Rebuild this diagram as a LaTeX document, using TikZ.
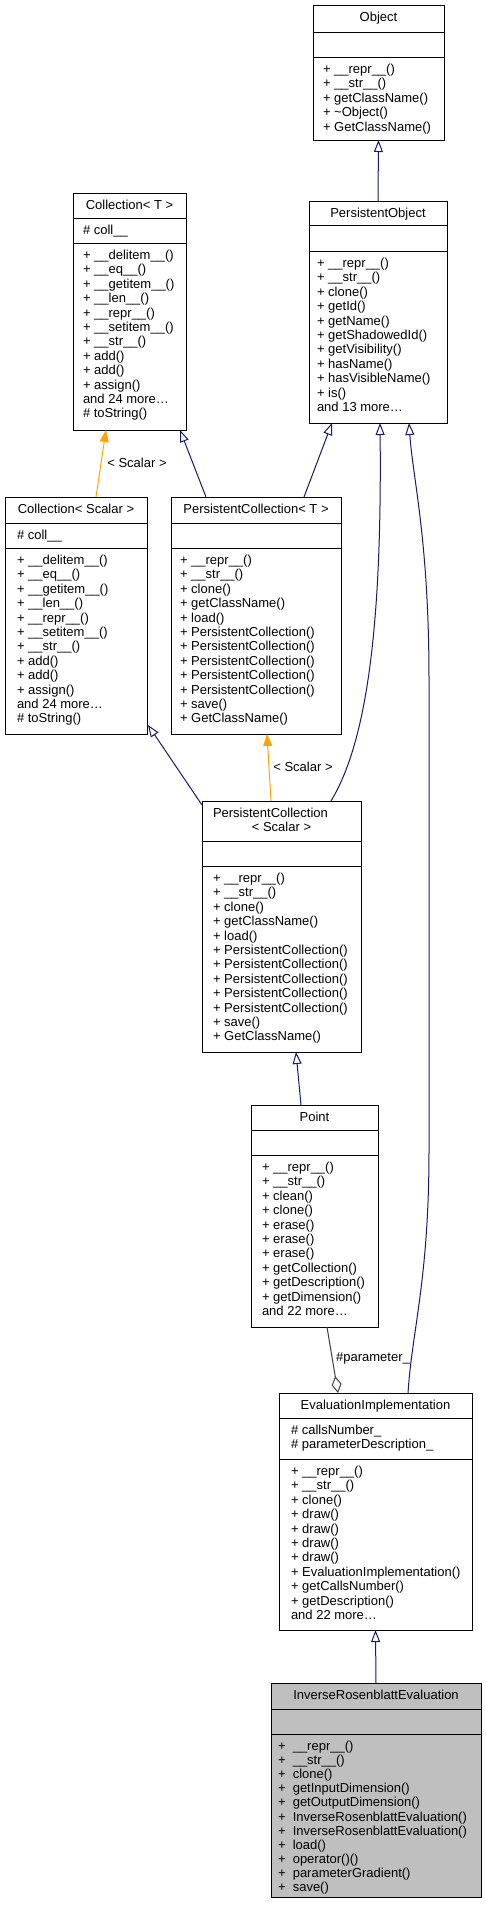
\documentclass[tikz,border=0pt]{standalone}
\usepackage{fontspec}
\setmainfont{Liberation Sans}
\usetikzlibrary{arrows.meta,calc}
\definecolor{navy}{HTML}{191970}
\definecolor{dorange}{HTML}{FFA500}
\definecolor{aggc}{HTML}{404040}
\definecolor{hl}{HTML}{BFBFBF}
\tikzset{
  box/.style={draw=black, line width=1pt, inner sep=0pt, outer sep=0pt, anchor=north west},
  sepline/.style={draw=black, line width=1pt},
  mem/.style={inner sep=0pt, outer sep=0pt, anchor=base west, font=\fontsize{13}{14.4}\selectfont},
  ttl/.style={inner sep=0pt, outer sep=0pt, anchor=base, font=\fontsize{13}{14.4}\selectfont},
  elabel/.style={inner sep=0pt, outer sep=0pt, anchor=center, font=\fontsize{13}{14.4}\selectfont},
  inh/.style={draw=navy, line width=1pt, -{Triangle[open, length=12pt, width=9pt]}},
  tmpl/.style={draw=dorange, line width=1pt, -{Triangle[length=12pt, width=9pt, fill=dorange]}},
  aggr/.style={draw=aggc, line width=1pt, -{Diamond[open, length=17pt, width=10pt]}},
}
% prefix, x, first baseline, spacing, list
\newcommand\memlist[5]{%
  \foreach \t [count=\i] in {#5} {\node[mem] (#1\i) at (#2, {#3+(\i-1)*#4}) {\t};}}
% name, x1, y1, width, height, sep1 offset, sep2 offset, fill
\newcommand\umlbox[8]{%
  \node[box, fill=#8, minimum width=#4pt, minimum height=#5pt] (#1) at (#2,#3) {};
  \draw[sepline] ($(#1.north west)+(0,#6)$) -- ($(#1.north east)+(0,#6)$);
  \draw[sepline] ($(#1.north west)+(0,#7)$) -- ($(#1.north east)+(0,#7)$);}
\newcommand\pw{+\hspace{7.2pt}}
\begin{document}
\begin{tikzpicture}[x=1pt,y=-1pt]
\useasboundingbox (0,0) rectangle (485,1912);
\fill[white] (0,0) rectangle (485,1912);

% Object
\umlbox{obj}{313}{5}{131}{135}{27}{52}{white}
\node[ttl] (objt) at (378.5,21.5) {Object};
\memlist{objm}{323}{73.5}{14.4}{+ \_\_repr\_\_(), + \_\_str\_\_(), + getClassName(), + \textasciitilde Object(), + GetClassName()}

% PersistentObject
\umlbox{pobj}{309}{201}{138}{222}{24}{50}{white}
\node[ttl] (pobjt) at (378,217.5) {PersistentObject};
\memlist{pobjm}{317}{267.5}{14.4}{+ \_\_repr\_\_(), + \_\_str\_\_(), + clone(), + getId(), + getName(), + getShadowedId(), + getVisibility(), + hasName(), + hasVisibleName(), + is(), and 13 more\ldots}

% Collection< T >
\umlbox{collT}{73}{193}{113}{237}{25}{50}{white}
\node[ttl] (collTt) at (129.5,209.5) {Collection< T >};
\node[mem] (collTa) at (83,234.5) {\# coll\_\_};
\memlist{collTm}{83}{259.5}{14.4}{+ \_\_delitem\_\_(), + \_\_eq\_\_(), + \_\_getitem\_\_(), + \_\_len\_\_(), + \_\_repr\_\_(), + \_\_setitem\_\_(), + \_\_str\_\_(), + add(), + add(), + assign(), and 24 more\ldots, \# toString()}

% Collection< Scalar >
\umlbox{collS}{5}{497}{142}{237}{26}{51}{white}
\node[ttl] (collSt) at (76,513.5) {Collection< Scalar >};
\node[mem] (collSa) at (17,539.5) {\# coll\_\_};
\memlist{collSm}{17}{564.5}{14.4}{+ \_\_delitem\_\_(), + \_\_eq\_\_(), + \_\_getitem\_\_(), + \_\_len\_\_(), + \_\_repr\_\_(), + \_\_setitem\_\_(), + \_\_str\_\_(), + add(), + add(), + assign(), and 24 more\ldots, \# toString()}

% PersistentCollection< T >
\umlbox{pcolT}{171}{497}{170}{237}{26}{51}{white}
\node[ttl] (pcolTt) at (256,513.5) {PersistentCollection< T >};
\memlist{pcolTm}{180}{564.5}{14.4}{+ \_\_repr\_\_(), + \_\_str\_\_(), + clone(), + getClassName(), + load(), + PersistentCollection(), + PersistentCollection(), + PersistentCollection(), + PersistentCollection(), + PersistentCollection(), + save(), + GetClassName()}

% PersistentCollection< Scalar >
\umlbox{pcolS}{202}{801}{159}{251}{40}{65}{white}
\node[mem] (pcolSt) at (213,817) {PersistentCollection};
\node[ttl] (pcolSt2) at (281.5,831) {< Scalar >};
\memlist{pcolSm}{213}{882.5}{14.4}{+ \_\_repr\_\_(), + \_\_str\_\_(), + clone(), + getClassName(), + load(), + PersistentCollection(), + PersistentCollection(), + PersistentCollection(), + PersistentCollection(), + PersistentCollection(), + save(), + GetClassName()}

% Point
\umlbox{point}{251}{1105}{127}{222}{25}{50}{white}
\node[ttl] (pointt) at (314.5,1121.5) {Point};
\memlist{pointm}{262}{1171.5}{14.4}{+ \_\_repr\_\_(), + \_\_str\_\_(), + clean(), + clone(), + erase(), + erase(), + erase(), + getCollection(), + getDescription(), + getDimension(), and 22 more\ldots}

% EvaluationImplementation
\umlbox{evimpl}{279}{1393}{193}{237}{25}{66}{white}
\node[ttl] (evimplt) at (375.5,1409.5) {EvaluationImplementation};
\memlist{evimpla}{291}{1434.5}{14.4}{\# callsNumber\_, \# parameterDescription\_}
\memlist{evimplm}{291}{1475.5}{14.4}{+ \_\_repr\_\_(), + \_\_str\_\_(), + clone(), + draw(), + draw(), + draw(), + draw(), + EvaluationImplementation(), + getCallsNumber(), + getDescription(), and 22 more\ldots}

% InverseRosenblattEvaluation
\umlbox{ire}{271}{1683}{210}{214}{26}{51}{hl}
\node[ttl] (iret) at (376,1699.5) {InverseRosenblattEvaluation};
\memlist{irem}{278}{1750.5}{14.1}{\pw\_\_repr\_\_(), \pw\_\_str\_\_(), \pw clone(), \pw getInputDimension(), \pw getOutputDimension(), \pw InverseRosenblattEvaluation(), \pw InverseRosenblattEvaluation(), \pw load(), \pw operator()(), \pw parameterGradient(), \pw save()}

% Connectors
\draw[inh] (pobj.north) -- (obj.south);
\draw[inh] ($(pcolT.north west)+(133,0)$) -- ($(pobj.south west)+(23,0)$);
\draw[inh] ($(pcolS.north west)+(129,0)$) .. controls (368,740) and (382,620) .. ($(pobj.south west)+(71,0)$);
\draw[inh] ($(evimpl.north west)+(129,0)$) .. controls (412,1330) and (429,1280) .. (429,1150) -- (429,680) .. controls (429,540) and (413,480) .. ($(pobj.south west)+(100,0)$);
\draw[tmpl] ($(collS.north west)+(91,0)$) -- ($(collT.south west)+(33,0)$);
\node[elabel] (lbl1) at (137,463) {< Scalar >};
\draw[inh] ($(pcolT.north west)+(35,0)$) -- ($(collT.south west)+(107,0)$);
\draw[inh] ($(pcolS.north west)+(0,4)$) -- ($(collS.north east)+(1,228)$);
\draw[tmpl] ($(pcolS.north west)+(69,0)$) -- ($(pcolT.south west)+(96,0)$);
\node[elabel] (lbl2) at (303,767) {< Scalar >};
\draw[inh] ($(point.north west)+(50,0)$) -- ($(pcolS.south west)+(94,0)$);
\draw[aggr] ($(point.south west)+(76,0)$) -- ($(evimpl.north west)+(59,0)$);
\node[elabel] (lbl3) at (373,1358) {\#parameter\_};
\draw[inh] (ire.north) -- (evimpl.south);
\end{tikzpicture}
\end{document}
